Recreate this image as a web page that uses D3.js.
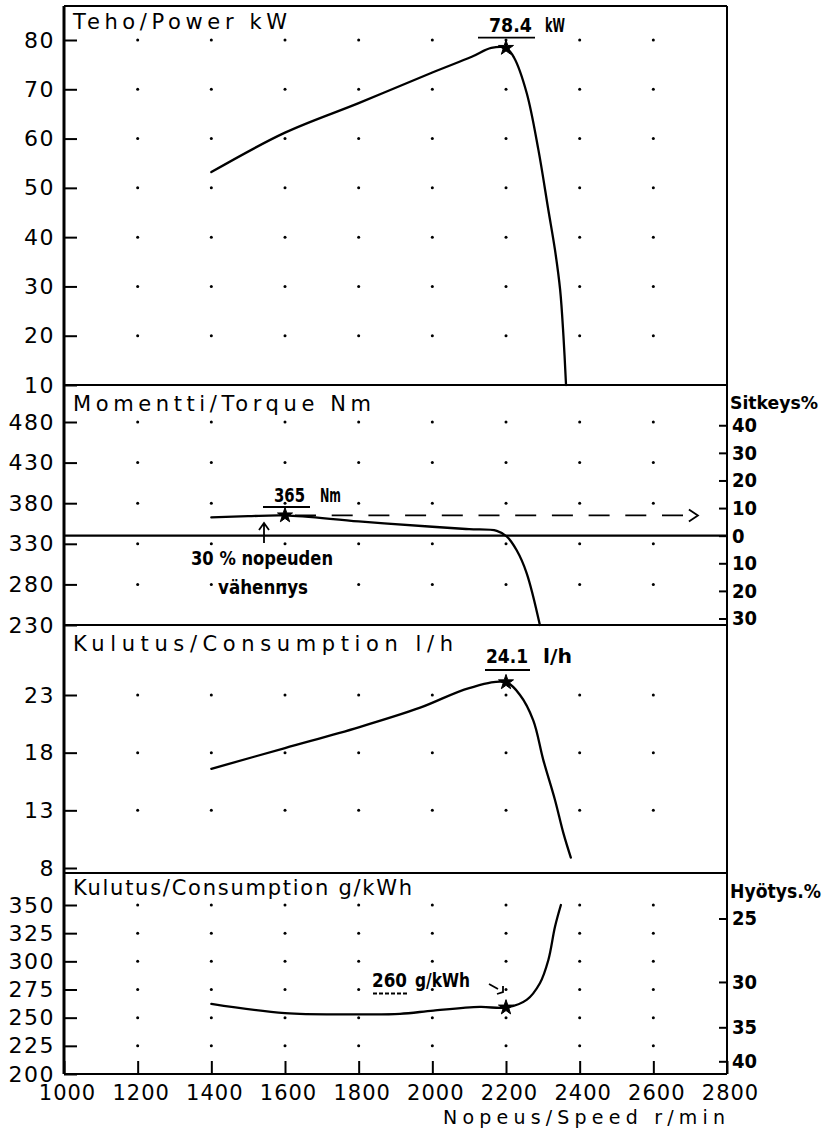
<!DOCTYPE html>
<html>
<head>
<meta charset="utf-8">
<script src="https://cdn.jsdelivr.net/npm/d3@7"></script>
<style>
  body { margin: 0; background: #fff; }
  svg text { fill: #000; }
  .plot { font-family: "DejaVu Sans", sans-serif; font-size: 21px; }
  .tick-lbl { font-family: "DejaVu Sans", sans-serif; font-size: 22px; }
  .note { font-family: "Liberation Sans Narrow", "DejaVu Sans Condensed", "Arial Narrow", sans-serif; font-size: 20px; font-weight: bold; }
</style>
</head>
<body>
<svg id="chart" width="827" height="1131"></svg>
<script>
// tick values
const speedTicks = [1000, 1200, 1400, 1600, 1800, 2000, 2200, 2400, 2600, 2800];
const powerTicks = [10, 20, 30, 40, 50, 60, 70, 80];
const torqueTicks = [230, 280, 330, 380, 430, 480];
const fuelTicks = [8, 13, 18, 23];
const sfcTicks = [200, 225, 250, 275, 300, 325, 350];
const sitkeysTicks = [-30, -20, -10, 0, 10, 20, 30, 40];
const hyotysTicks = [25, 30, 35, 40];

// power kW
const powerSpeed = [1400, 1600, 1800, 2000, 2107, 2160, 2200, 2222, 2256, 2288, 2315, 2333, 2347, 2356, 2363];
const power = [53.2, 61.2, 67.2, 73.4, 76.6, 78.4, 78.4, 76.4, 69.3, 57.7, 45.5, 37.4, 29.3, 19.9, 10];

// torque Nm
const torqueSpeed = [1400, 1500, 1600, 1800, 2000, 2100, 2175, 2202, 2229, 2256, 2292];
const torque = [362.5, 364, 365, 357.5, 351, 348, 346, 339, 322, 294, 230];

// fuel consumption l/h
const fuelSpeed = [1400, 1600, 1800, 1967, 2100, 2200, 2238, 2274, 2301, 2333, 2356, 2376];
const fuel = [16.6, 18.4, 20.2, 21.9, 23.6, 24.1, 23.0, 20.8, 17.4, 13.9, 11.0, 8.9];

// specific consumption g/kWh
const sfcSpeed = [1400, 1600, 1800, 1912, 2003, 2129, 2200, 2256, 2292, 2315, 2333, 2349];
const sfc = [262.3, 254, 253, 253.4, 256.3, 259.5, 259, 265.8, 280.6, 301.2, 330.7, 350];

// peak values
const ratedSpeed = 2200;
const peakPower = 78.4;
const torqueSpeedMax = 1600;
const peakTorque = 365;
const refTorque = 340;   // torque at rated power, 0 % rise
const peakFuel = 24.1;
const minSfc = 259;
const lhv = 42.6;        // MJ/kg for efficiency axis

const svg = d3.select('#chart');
const frameL = 64, frameR = 727, frameT = 6, frameB = 1074;

const x = d3.scaleLinear().domain([1000, 2800]).range([frameL, frameR]);
const yPower = d3.scaleLinear().domain([10, 80]).range([385, 40]);
const yTorque = d3.scaleLinear().domain([230, 480]).range([625, 422]);
const yFuel = d3.scaleLinear().domain([8, 23]).range([868, 695]);
const ySfc = d3.scaleLinear().domain([200, 350]).range([frameB, 905]);

svg.append('rect').attr('width', 827).attr('height', 1131).attr('fill', '#fff');

const panels = [
  { y: yPower, ticks: powerTicks, title: 'Teho/Power kW', tw: 214, ty: 29 },
  { y: yTorque, ticks: torqueTicks, title: 'Momentti/Torque Nm', tw: 298, ty: 411 },
  { y: yFuel, ticks: fuelTicks, title: 'Kulutus/Consumption l/h', tw: 380, ty: 651 },
  { y: ySfc, ticks: sfcTicks, title: 'Kulutus/Consumption g/kWh', tw: 339, ty: 895 }
];

const dotSpeeds = speedTicks.slice(1, -1);

panels.forEach(p => {
  // grid dots (skip the bottom tick, it sits on the border)
  const rows = p.ticks.slice(1);
  const g = svg.append('g');
  rows.forEach(v => {
    g.selectAll(null)
      .data(dotSpeeds)
      .enter()
      .append('circle')
      .attr('cx', d => x(d))
      .attr('cy', p.y(v))
      .attr('r', 1.5)
      .attr('fill', '#000');
  });

  // left axis, ticks pointing inward
  const ax = svg.append('g')
    .attr('transform', `translate(${frameL},0)`)
    .call(d3.axisLeft(p.y).tickValues(p.ticks).tickSize(-13).tickPadding(9));
  ax.select('.domain').remove();
  ax.selectAll('line').attr('stroke', '#000').attr('stroke-width', 2);
  ax.attr('font-family', null).attr('font-size', null);
  ax.selectAll('text')
    .attr('class', 'tick-lbl')
    .style('letter-spacing', '1.5px');

  svg.append('text')
    .attr('class', 'plot')
    .attr('x', 73)
    .attr('y', p.ty)
    .attr('textLength', p.tw)
    .attr('lengthAdjust', 'spacing')
    .text(p.title);
});

// bottom axis
const bx = svg.append('g')
  .attr('transform', `translate(0,${frameB})`)
  .call(d3.axisBottom(x).tickValues(speedTicks).tickSize(-13).tickPadding(11).tickFormat(d3.format('d')));
bx.select('.domain').remove();
bx.selectAll('line').attr('stroke', '#000').attr('stroke-width', 2);
bx.attr('font-family', null).attr('font-size', null);
bx.selectAll('text')
  .attr('class', 'tick-lbl')
  .style('font-size', '21px')
  .attr('dx', '3px')
  .style('letter-spacing', '1px');

svg.append('text')
  .attr('class', 'plot')
  .style('font-size', '19px')
  .attr('x', 443)
  .attr('y', 1124)
  .attr('textLength', 282)
  .attr('lengthAdjust', 'spacing')
  .text('Nopeus/Speed r/min');

// right axis: torque rise %
const ySit = d3.scaleLinear()
  .domain([-30, 40])
  .range([yTorque(refTorque * 0.7), yTorque(refTorque * 1.4)]);
const rs = svg.append('g')
  .attr('transform', `translate(${frameR},0)`)
  .call(d3.axisRight(ySit).tickValues(sitkeysTicks).tickSize(-8).tickPadding(5).tickFormat(d => Math.abs(d)));
rs.select('.domain').remove();
rs.selectAll('line').attr('stroke', '#000').attr('stroke-width', 2);
rs.attr('font-family', null).attr('font-size', null);
rs.selectAll('text').attr('class', 'note');

// right axis: efficiency %
const re = svg.append('g')
  .attr('transform', `translate(${frameR},0)`)
  .call(d3.axisRight(ySfc)
    .tickValues(hyotysTicks.map(e => 3600 / (e / 100 * lhv)))
    .tickSize(-8).tickPadding(5)
    .tickFormat(b => Math.round(3600 / (b * lhv) * 100)));
re.select('.domain').remove();
re.selectAll('line').attr('stroke', '#000').attr('stroke-width', 2);
re.attr('font-family', null).attr('font-size', null);
re.selectAll('text').attr('class', 'note');

svg.append('text').attr('class', 'note').style('font-size', '18px').attr('x', 730).attr('y', 409)
  .attr('textLength', 88).attr('lengthAdjust', 'spacingAndGlyphs').text('Sitkeys%');
svg.append('text').attr('class', 'note').attr('x', 730).attr('y', 898)
  .attr('textLength', 91).attr('lengthAdjust', 'spacingAndGlyphs').text('Hyötys.%');

// frame
[frameT, yPower(10), yTorque(230), 873, frameB].forEach(yy => {
  svg.append('line')
    .attr('x1', frameL).attr('x2', frameR)
    .attr('y1', yy).attr('y2', yy)
    .attr('stroke', '#000').attr('stroke-width', 2);
});
svg.append('line').attr('x1', frameL).attr('x2', frameL).attr('y1', frameT).attr('y2', frameB)
  .attr('stroke', '#000').attr('stroke-width', 3);
svg.append('line').attr('x1', frameR).attr('x2', frameR).attr('y1', frameT).attr('y2', frameB)
  .attr('stroke', '#000').attr('stroke-width', 2);

// reference torque line (0 %)
svg.append('line')
  .attr('x1', frameL).attr('x2', frameR)
  .attr('y1', yTorque(refTorque)).attr('y2', yTorque(refTorque))
  .attr('stroke', '#000').attr('stroke-width', 2.2);

// dashed max torque line with arrow
const dashEnd = 2721;
svg.append('line')
  .attr('x1', x(torqueSpeedMax)).attr('x2', x(dashEnd))
  .attr('y1', yTorque(peakTorque)).attr('y2', yTorque(peakTorque))
  .attr('stroke', '#000').attr('stroke-width', 1.8)
  .attr('stroke-dasharray', '21,15.7')
  .attr('stroke-dashoffset', -10);
svg.append('path')
  .attr('d', `M${x(dashEnd) - 9},${yTorque(peakTorque) - 6}L${x(dashEnd)},${yTorque(peakTorque)}L${x(dashEnd) - 9},${yTorque(peakTorque) + 6}`)
  .attr('fill', 'none').attr('stroke', '#000').attr('stroke-width', 1.8);

// curves
const drawCurve = (xs, ys, yScale) => {
  const line = d3.line()
    .x(d => x(d[0]))
    .y(d => yScale(d[1]))
    .curve(d3.curveCatmullRom.alpha(0.5));
  svg.append('path')
    .datum(xs.map((s, i) => [s, ys[i]]))
    .attr('d', line)
    .attr('fill', 'none')
    .attr('stroke', '#000')
    .attr('stroke-width', 2.3)
    .attr('stroke-linecap', 'round')
    .attr('stroke-linejoin', 'round');
};
drawCurve(powerSpeed, power, yPower);
drawCurve(torqueSpeed, torque, yTorque);
drawCurve(fuelSpeed, fuel, yFuel);
drawCurve(sfcSpeed, sfc, ySfc);

// star markers
const star = d3.symbol().type(d3.symbolStar).size(70);
[[ratedSpeed, yPower(peakPower)], [torqueSpeedMax, yTorque(peakTorque)],
 [ratedSpeed, yFuel(peakFuel)], [ratedSpeed, ySfc(minSfc)]].forEach(s => {
  svg.append('path')
    .attr('d', star)
    .attr('transform', `translate(${x(s[0])},${s[1]})`)
    .attr('fill', '#000')
    .attr('stroke', '#000')
    .attr('stroke-width', 1);
});

// annotations
const note = (tx, ty, str, len) => {
  svg.append('text')
    .attr('class', 'note')
    .attr('x', tx).attr('y', ty)
    .attr('textLength', len)
    .attr('lengthAdjust', 'spacingAndGlyphs')
    .text(str);
};
const underline = (x1, x2, yy, dash) => {
  svg.append('line')
    .attr('x1', x1).attr('x2', x2).attr('y1', yy).attr('y2', yy)
    .attr('stroke', '#000').attr('stroke-width', 1.8)
    .attr('stroke-dasharray', dash || null);
};

note(489, 31.5, d3.format('.1f')(peakPower), 43);
note(545, 31.5, 'kW', 20);
underline(478, 535, 37.7);

note(274, 502, String(peakTorque), 31);
note(320, 502, 'Nm', 21);
underline(263, 310, 507);

note(191, 565, '30 % nopeuden', 142);
note(218, 594, 'vähennys', 90);
svg.append('path')
  .attr('d', 'M264,543V524M259,530L264,523L269,530')
  .attr('fill', 'none').attr('stroke', '#000').attr('stroke-width', 1.8);

note(486, 663, d3.format('.1f')(peakFuel), 42);
note(543, 663, 'l/h', 29);
underline(485, 530, 670);

note(372, 987, '260', 35);
note(415, 987, 'g/kWh', 55);
underline(373, 407, 993.5, '4,2');
svg.append('path')
  .attr('d', 'M489,984L498,989M497,994L503,992L503,986')
  .attr('fill', 'none').attr('stroke', '#000').attr('stroke-width', 1.8);
</script>
</body>
</html>
